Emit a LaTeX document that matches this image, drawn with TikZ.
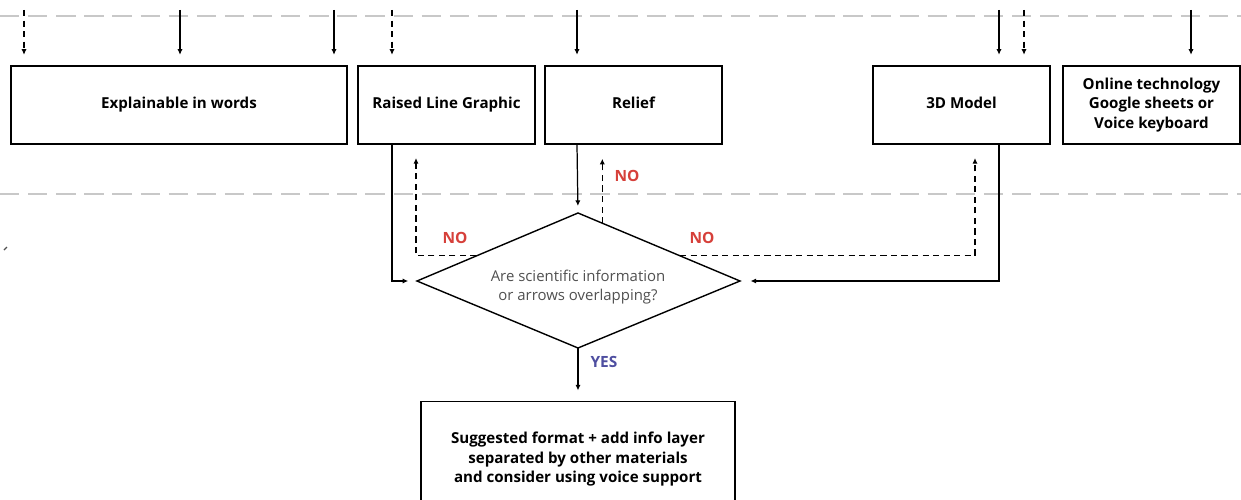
\documentclass[tikz,border=0pt]{standalone}
\usepackage{fontspec}
\setmainfont{Open Sans}
\usetikzlibrary{arrows.meta,calc}
\definecolor{nored}{RGB}{214,64,58}
\definecolor{yesblue}{RGB}{78,78,160}
\definecolor{guide}{RGB}{200,200,200}
\definecolor{qtext}{RGB}{80,80,80}
\tikzset{
  stepbox/.style={draw, line width=0.8pt, inner sep=0pt, font=\bfseries\fontsize{8.6}{11.2}\selectfont, align=center},
  arr/.style={line width=0.7pt, -{Latex[length=3.2pt,width=3pt]}},
  darr/.style={arr, dashed, dash pattern=on 3.5pt off 2.5pt},
  guideline/.style={guide, line width=1pt, dash pattern=on 11pt off 5pt},
  nolabel/.style={text=nored, font=\bfseries\fontsize{8.8}{10}\selectfont},
  yeslabel/.style={text=yesblue, font=\bfseries\fontsize{8.8}{10}\selectfont},
}
\begin{document}
\begin{tikzpicture}[x=0.02cm, y=-0.02cm]
\useasboundingbox (0,0) rectangle (1241,500);

% lane separators
\draw[guideline] (0,16) -- (1241,16);
\draw[guideline] (0,194) -- (1241,194);

% format boxes
\node[stepbox, minimum width=6.72cm, minimum height=1.56cm] (words) at (179,105) {Explainable in words\strut};
\node[stepbox, minimum width=3.54cm, minimum height=1.56cm] (rlg) at (446.5,105) {Raised Line Graphic\strut};
\node[stepbox, minimum width=3.54cm, minimum height=1.56cm] (relief) at (633.5,105) {Relief\strut};
\node[stepbox, minimum width=3.54cm, minimum height=1.56cm] (model) at (961.5,105) {3D Model\strut};
\node[stepbox, minimum width=3.54cm, minimum height=1.56cm] (online) at (1151.5,105) {Online technology\\Google sheets or\\Voice keyboard};

% decision diamond
\coordinate (qn) at (578,213);
\coordinate (qw) at (417,281);
\coordinate (qe) at (740,281);
\coordinate (qs) at (578,348);
\draw[line width=0.8pt, line join=miter] (qn) -- (qe) -- (qs) -- (qw) -- cycle;
\node[text=qtext, font=\fontsize{8.5}{10.8}\selectfont, align=center] (q) at (578,287)
      {Are scientific information\\or arrows overlapping?};

% outcome
\node[stepbox, minimum width=6.28cm, minimum height=2.3cm, anchor=north] (out) at (578,401)
      {Suggested format + add info layer\\separated by other materials\\and consider using voice support};

% incoming arrows from above
\coordinate (t1) at (24,10);
\coordinate (t2) at (180,10);
\coordinate (t3) at (334,10);
\coordinate (t4) at (392,10);
\coordinate (t5) at (577,10);
\coordinate (t6) at (999,10);
\coordinate (t7) at (1024,10);
\coordinate (t8) at (1191,10);
\draw[darr, shorten >=6pt] (t1) -- (t1 |- words.north);
\draw[arr, shorten >=6pt] (t2) -- (t2 |- words.north);
\draw[arr, shorten >=6pt] (t3) -- (t3 |- words.north);
\draw[darr, shorten >=6pt] (t4) -- (t4 |- rlg.north);
\draw[arr, shorten >=6pt] (t5) -- (t5 |- relief.north);
\draw[arr, shorten >=6pt] (t6) -- (t6 |- model.north);
\draw[darr, shorten >=6pt] (t7) -- (t7 |- model.north);
\draw[arr, shorten >=6pt] (t8) -- (t8 |- online.north);

% formats into the decision
\draw[arr, shorten >=5pt] (rlg.south -| t4) |- (qw);
\draw[arr, shorten >=4pt] (relief.south -| t5) -- (qn);
\draw[arr, shorten >=6pt] (model.south -| t6) |- (qe);

% "no" loops back up
\coordinate (nl) at ($(qn)!0.63!(qw)$);
\coordinate (nr) at ($(qn)!0.63!(qe)$);
\coordinate (nt) at ($(qn)!0.15!(qe)$);
\coordinate (ul) at (416,144);
\coordinate (ur) at (975,144);
\draw[darr, shorten >=8pt] (nl) -| (ul);
\draw[darr, shorten >=8pt] (nt) -- (nt |- relief.south);
\draw[darr, shorten >=8pt] (nr) -| (ur);
\node[nolabel] (no1) at (455,238) {NO};
\node[nolabel] (no2) at (627,176) {NO};
\node[nolabel] (no3) at (702,238) {NO};

% "yes" to outcome
\draw[arr, shorten >=6pt] (qs) -- (out.north);
\node[yeslabel] (yes) at (604,362) {YES};

% stray mark at the left margin
\draw[qtext, line width=0.8pt] (4,250) -- (7,247);
\end{tikzpicture}
\end{document}
